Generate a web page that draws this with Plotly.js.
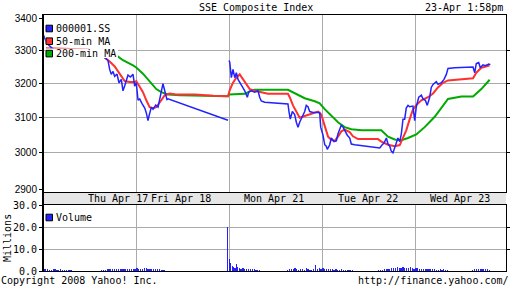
<!DOCTYPE html>
<html>
<head>
<meta charset="utf-8">
<script src="https://cdn.plot.ly/plotly-3.0.1.min.js"></script>
<style>html,body{margin:0;padding:0;background:#fff;}#chart{width:512px;height:288px;}</style>
</head>
<body>
<div id="chart"></div>
<script>
// ---- data (x = trading-day position on the chart, 0..5) ----
const dayLabels = ['Thu Apr 17', 'Fri Apr 18', 'Mon Apr 21', 'Tue Apr 22', 'Wed Apr 23'];
const dayLabelAt = [0.806, 1.489, 2.484, 3.491, 4.489];
const dayBounds = [1, 2, 3, 4];

const priceTicksGrid = [3000, 3100, 3200, 3300];
const priceTicksEdge = [2900, 3400];
const volTicksGrid = [10, 20];
const volTicksEdge = [0, 30];

const priceT = [0.000,0.022,0.043,0.129,0.237,0.344,0.452,0.559,0.645,0.699,0.717,0.734,0.753,0.771,0.796,0.817,0.842,0.860,0.878,0.896,0.914,0.939,0.968,0.986,1.003,1.022,1.040,1.065,1.094,1.111,1.129,1.140,1.165,1.183,1.212,1.237,1.255,1.272,1.290,1.309,1.333,1.344,1.989,1.995,
  2.000,2.008,2.025,2.043,2.062,2.079,2.097,2.115,2.140,2.169,2.197,2.212,2.240,2.276,2.312,2.330,2.347,2.384,2.634,2.645,2.659,2.681,2.706,2.724,2.742,2.760,2.785,2.814,2.831,2.849,2.868,2.903,2.975,2.986,
  3.011,3.029,3.046,3.057,3.083,3.100,3.129,3.154,3.172,3.190,3.208,3.226,3.244,3.272,3.298,3.315,3.352,3.423,3.530,3.621,3.645,3.667,3.692,3.710,3.728,3.745,3.763,3.782,3.799,3.817,3.836,3.853,3.871,3.889,3.906,3.925,3.943,3.978,3.997,
  4.014,4.040,4.068,4.086,4.111,4.132,4.158,4.175,4.194,4.229,4.247,4.283,4.312,4.337,4.355,4.427,4.534,4.624,4.642,4.659,4.685,4.702,4.731,4.756,4.793,4.810];
const priceV = [3352,3338,3322,3300,3298,3296,3294,3290,3284,3270,3243,3228,3237,3222,3229,3203,3213,3179,3193,3210,3226,3220,3228,3193,3203,3151,3155,3141,3128,3114,3092,3105,3131,3125,3137,3131,3153,3179,3200,3179,3153,3155,3093,null,
  3270,3265,3218,3243,3218,3233,3213,3203,3193,3179,3160,3175,3179,3175,3179,3160,3149,3145,3140,3118,3096,3118,3109,3087,3073,3087,3100,3118,3136,3132,3118,3115,3115,3073,
  3050,3023,3019,3010,3023,3042,3032,3034,3054,3068,3079,3073,3064,3050,3042,3025,3023,3021,3016,3014,3022,3028,3042,3025,3019,3005,3000,3014,3032,3042,3032,3054,3096,3096,3128,3136,3132,3134,3092,
  3132,3160,3166,3155,3151,3136,3160,3189,3198,3206,3198,3203,3213,3228,3246,3248,3250,3250,3233,3261,3264,3248,3257,3254,3259,3257];

const ma50T = [0.032,0.183,0.344,0.484,0.613,0.717,0.771,0.806,0.842,0.878,0.932,0.986,1.003,1.040,1.075,1.111,1.147,1.183,1.218,1.272,1.309,1.362,1.430,1.634,1.828,1.989,
  2.000,2.008,2.043,2.079,2.115,2.151,2.186,2.223,2.276,2.347,2.419,2.634,2.653,2.688,2.724,2.760,2.814,2.885,2.957,2.992,
  3.029,3.065,3.100,3.137,3.172,3.208,3.244,3.298,3.333,3.387,3.602,3.638,3.710,3.782,3.836,3.871,3.906,3.943,3.978,
  4.014,4.068,4.140,4.194,4.247,4.301,4.355,4.498,4.624,4.659,4.713,4.800];
const ma50V = [3308,3306,3305,3304,3290,3267,3252,3237,3222,3208,3205,3205,3208,3193,3175,3151,3131,3128,3131,3151,3166,3171,3168,3168,3164,3163,
  3175,3181,3203,3218,3228,3213,3198,3184,3179,3175,3170,3170,3160,3136,3118,3100,3105,3112,3118,3109,
  3077,3046,3037,3034,3046,3061,3066,3059,3047,3039,3039,3032,3023,3019,3022,3042,3064,3096,3124,
  3137,3151,3160,3171,3189,3203,3210,3213,3216,3233,3248,3255];

const ma200T = [0.796,0.860,0.968,1.003,1.075,1.147,1.218,1.272,1.344,1.473,1.688,1.989,
  2.000,2.172,2.240,2.276,2.634,2.706,2.814,2.922,2.975,3.029,3.100,3.172,3.244,3.315,3.427,3.638,3.710,3.782,3.853,3.925,
  4.014,4.104,4.212,4.283,4.355,4.498,4.624,4.713,4.803];
const ma200V = [3284,3271,3255,3249,3230,3208,3184,3175,3168,3166,3164,3163,
  3168,3170,3180,3182,3182,3171,3157,3148,3142,3125,3105,3087,3073,3067,3064,3064,3046,3038,3036,3042,
  3052,3073,3103,3128,3155,3162,3162,3184,3212];

// volume, millions: regular 0.02-day samples per trading session, plus Monday open
const volStep = 0.02;
const volSessionStart = [0.01, 0.63, 1.01, 2.63, 3.01, 3.61, 4.62];
const volSessionValues = [
  [1.0,0.8,0.7,0.6,0.6,0.7,0.8,0.6,0.6,0.7,0.6,0.5,0.6,0.5,0.4,0.3],
  [0.3,0.5,0.6,0.7,0.8,0.8,0.9,0.8,1.0,0.9,1.1,0.9,0.8,0.9,1.0,0.9,1.1,1.0,0.9],
  [1.2,1.0,0.9,0.8,1.3,1.2,1.0,0.9,0.8,0.9,0.8,0.7,0.7,0.6,0.5,0.4],
  [0.6,0.9,0.8,0.7,1.2,0.8,0.6,1.1,0.9,0.6,1.3,0.7,0.5,0.6,0.8,2.8,1.0,1.4,0.9],
  [1.2,0.8,0.7,0.8,0.7,0.8,0.6,0.7,0.6,0.6,0.7,0.6,0.4,0.5,0.4,0.3,0.3],
  [0.5,0.6,0.6,0.7,0.8,0.9,1.0,1.3,1.2,1.5,1.7,1.4,1.6,1.8,1.5,1.3,1.5,1.7,1.2,1.0,1.4,1.3,0.9,0.8,1.0,1.1,0.8,0.7,0.9,0.8,1.0,0.5,0.6,0.9,0.5,0.7,0.4,0.6],
  [0.6,0.7,0.9,0.8,0.7,1.0,0.8,0.9,0.7,0.5]
];
const volMonT = [1.988,2.005,2.020,2.035,2.050,2.065,2.080,2.095,2.110,2.130,2.150,2.170,2.190,2.210,2.230,2.250,2.270,2.290,2.310,2.330];
const volMonV = [20.2,5.4,3.7,2.5,2.0,1.5,3.3,1.8,1.2,1.0,1.4,0.8,1.0,1.1,0.8,0.7,0.9,0.6,0.5,0.4];

// ---- build ----
const volT = [], volV = [];
volSessionStart.forEach((s, i) => {
  volSessionValues[i].forEach((v, k) => { volT.push(+(s + k * volStep).toFixed(3)); volV.push(v); });
});
volMonT.forEach((t, i) => { volT.push(t); volV.push(volMonV[i]); });

const BLUE = '#2222ff', RED = '#ff3030', GREEN = '#00aa00';
const MONO = 'DejaVu Sans Mono, monospace';
const SANS = 'Liberation Sans, Arial, sans-serif';
const GRID = '#aaaaaa';
const fx = p => p / 512;
const fy = p => 1 - p / 288;
const X0 = 43, X1 = 506, MAIN_T = 15, MAIN_B = 192.3, VOL_T = 205, VOL_B = 271;
const xMax = (X1 - X0) / 93;
const logLo = 3.46118, logHi = 3.53298;

const traces = [
  {x: ma200T, y: ma200V, type: 'scatter', mode: 'lines', line: {color: GREEN, width: 2}, xaxis: 'x', yaxis: 'y', hoverinfo: 'skip'},
  {x: ma50T, y: ma50V, type: 'scatter', mode: 'lines', line: {color: RED, width: 2}, xaxis: 'x', yaxis: 'y', hoverinfo: 'skip'},
  {x: priceT, y: priceV, type: 'scatter', mode: 'lines', connectgaps: false, line: {color: BLUE, width: 1.5}, xaxis: 'x', yaxis: 'y', hoverinfo: 'skip'},
  {x: volT, y: volV, type: 'bar', width: 0.013, marker: {color: BLUE, line: {width: 0}}, xaxis: 'x2', yaxis: 'y2', hoverinfo: 'skip'},
  {x: [], y: [], type: 'scatter', mode: 'lines', xaxis: 'x', yaxis: 'y3', hoverinfo: 'skip'},
  {x: [], y: [], type: 'scatter', mode: 'lines', xaxis: 'x2', yaxis: 'y4', hoverinfo: 'skip'}
];

const xCommon = {
  range: [0, xMax], tickvals: dayBounds, showticklabels: false, ticks: '',
  showgrid: true, gridcolor: GRID, gridwidth: 1, zeroline: false,
  showline: true, linecolor: 'black', linewidth: 1, mirror: true, fixedrange: true
};
const yTickFontSans = {family: SANS, size: 10, color: 'black'};
const yTickFontMono = {family: MONO, size: 10, color: 'black'};

const shapes = [
  // grey date band
  {type: 'rect', xref: 'paper', yref: 'paper', x0: fx(X0), x1: fx(X1), y0: fy(VOL_T), y1: fy(MAIN_B), fillcolor: '#e6e6e6', line: {width: 0}, layer: 'below'},
  // thick left spine
  {type: 'line', xref: 'paper', yref: 'paper', x0: fx(X0), x1: fx(X0), y0: fy(VOL_B), y1: fy(MAIN_T), line: {color: 'black', width: 2}},
  // legend backgrounds
  {type: 'rect', xref: 'paper', yref: 'paper', x0: fx(45.5), x1: fx(116), y0: fy(45), y1: fy(23), fillcolor: 'white', line: {width: 0}, layer: 'above'},
  {type: 'rect', xref: 'paper', yref: 'paper', x0: fx(45.5), x1: fx(118), y0: fy(58), y1: fy(48.5), fillcolor: 'white', line: {width: 0}, layer: 'above'}
];
const legendItems = [
  {label: '000001.SS', color: BLUE, cy: 28.5},
  {label: '50-min MA', color: RED, cy: 41.2},
  {label: '200-min MA', color: GREEN, cy: 53.6},
  {label: 'Volume', color: BLUE, cy: 217.5}
];
const annotations = [];
legendItems.forEach(it => {
  shapes.push({type: 'rect', xref: 'paper', yref: 'paper', x0: fx(46), x1: fx(52.5), y0: fy(it.cy + 3.3), y1: fy(it.cy - 3.3), fillcolor: it.color, line: {color: 'black', width: 1}, layer: 'above'});
  annotations.push({text: it.label, xref: 'paper', yref: 'paper', x: fx(54), y: fy(it.cy), xanchor: 'left', yanchor: 'middle', showarrow: false, font: {family: MONO, size: 10, color: 'black'}});
});
dayLabels.forEach((d, i) => {
  annotations.push({text: d, xref: 'x', yref: 'paper', x: dayLabelAt[i], y: fy(198.5), xanchor: 'center', yanchor: 'middle', showarrow: false, font: {family: MONO, size: 10, color: 'black'}});
});
annotations.push(
  {text: 'SSE Composite Index', xref: 'paper', yref: 'paper', x: fx(255.5), y: fy(7), xanchor: 'center', yanchor: 'middle', showarrow: false, font: {family: MONO, size: 10, color: 'black'}},
  {text: '23-Apr 1:58pm', xref: 'paper', yref: 'paper', x: fx(505), y: fy(7), xanchor: 'right', yanchor: 'middle', showarrow: false, font: {family: MONO, size: 10, color: 'black'}},
  {text: 'Copyright 2008 Yahoo! Inc.', xref: 'paper', yref: 'paper', x: fx(-1), y: fy(280.5), xanchor: 'left', yanchor: 'middle', showarrow: false, font: {family: MONO, size: 10, color: 'black'}},
  {text: 'http://finance.yahoo.com/', xref: 'paper', yref: 'paper', x: fx(511), y: fy(280.5), xanchor: 'right', yanchor: 'middle', showarrow: false, font: {family: MONO, size: 10, color: 'black'}},
  {text: 'Millions', xref: 'paper', yref: 'paper', x: fx(7.5), y: fy(238.5), xanchor: 'center', yanchor: 'middle', textangle: -90, showarrow: false, font: {family: MONO, size: 10, color: 'black'}}
);

const layout = {
  width: 512, height: 288, margin: {l: 0, r: 0, t: 0, b: 0},
  paper_bgcolor: 'white', plot_bgcolor: 'white', showlegend: false, bargap: 0,
  xaxis: Object.assign({}, xCommon, {domain: [fx(X0), fx(X1)], anchor: 'y'}),
  xaxis2: Object.assign({}, xCommon, {domain: [fx(X0), fx(X1)], anchor: 'y2', matches: 'x'}),
  yaxis: {
    domain: [fy(MAIN_B), fy(MAIN_T)], anchor: 'x', type: 'log', range: [logLo, logHi],
    tickvals: priceTicksGrid, ticktext: priceTicksGrid.map(String), tickfont: yTickFontSans,
    ticks: 'outside', ticklen: 3, tickcolor: 'black', tickwidth: 1,
    showgrid: true, gridcolor: GRID, gridwidth: 1, zeroline: false,
    showline: true, linecolor: 'black', linewidth: 1, mirror: 'ticks', fixedrange: true
  },
  yaxis3: {
    overlaying: 'y', anchor: 'x', side: 'left', type: 'log', range: [logLo, logHi],
    tickvals: priceTicksEdge, ticktext: priceTicksEdge.map(String), tickfont: yTickFontSans,
    ticks: 'outside', ticklen: 3, tickcolor: 'black', showgrid: false, zeroline: false, showline: false, fixedrange: true
  },
  yaxis2: {
    domain: [fy(VOL_B), fy(VOL_T)], anchor: 'x2', range: [0, 30.4],
    tickvals: volTicksGrid, ticktext: volTicksGrid.map(v => v.toFixed(1)), tickfont: yTickFontMono,
    ticks: 'outside', ticklen: 3, tickcolor: 'black',
    showgrid: true, gridcolor: GRID, gridwidth: 1, zeroline: false,
    showline: true, linecolor: 'black', linewidth: 1, mirror: 'ticks', fixedrange: true
  },
  yaxis4: {
    overlaying: 'y2', anchor: 'x2', side: 'left', range: [0, 30.4],
    tickvals: volTicksEdge, ticktext: volTicksEdge.map(v => v.toFixed(1)), tickfont: yTickFontMono,
    ticks: 'outside', ticklen: 3, tickcolor: 'black', showgrid: false, zeroline: false, showline: false, fixedrange: true
  },
  shapes: shapes,
  annotations: annotations
};

Plotly.newPlot('chart', traces, layout, {staticPlot: true, displayModeBar: false});
</script>
</body>
</html>
